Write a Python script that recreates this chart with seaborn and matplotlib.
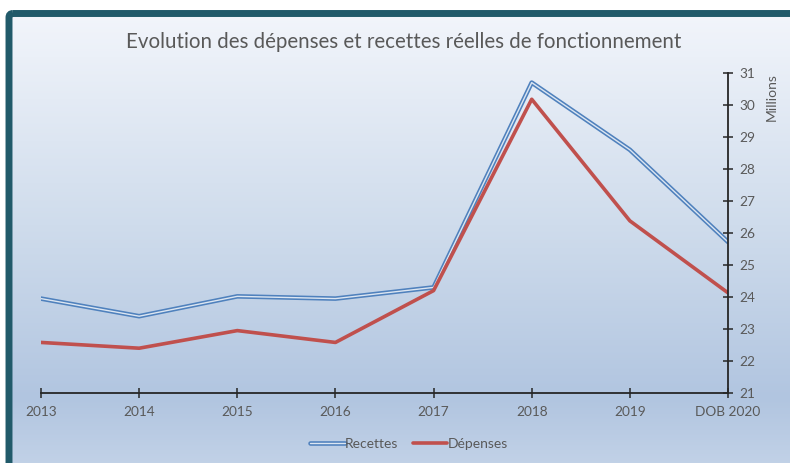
import numpy as np
import pandas as pd
import matplotlib
matplotlib.use("Agg")
import matplotlib.pyplot as plt
import matplotlib.patheffects as pe
from matplotlib.patches import FancyBboxPatch
from matplotlib.colors import LinearSegmentedColormap
import seaborn as sns

categories = ["2013", "2014", "2015", "2016", "2017", "2018", "2019", "DOB 2020"]
recettes = [23.95, 23.40, 24.02, 23.95, 24.30, 30.70, 28.60, 25.72]
depenses = [22.58, 22.40, 22.95, 22.58, 24.20, 30.18, 26.38, 24.13]
yticks = list(range(21, 32))

title = "Evolution des dépenses et recettes réelles de fonctionnement"
FONT = ["Lato", "DejaVu Sans"]
GRAY = "#595959"

sns.set_theme(style="white")
plt.rcParams["font.family"] = FONT

W, H = 790, 463
fig = plt.figure(figsize=(W / 100, H / 100), dpi=100)
fig.patch.set_facecolor("white")

# background panel with gradient and frame
bg = fig.add_axes([0, 0, 1, 1], zorder=-10)
bg.set_xlim(0, W)
bg.set_ylim(H, 0)
bg.axis("off")
cmap = LinearSegmentedColormap.from_list(
    "bgc", [(0.0, "#f2f5fb"), (0.45, "#cfdcec"), (0.82, "#b1c5e0"), (1.0, "#c6d5e9")])
grad = np.linspace(0, 1, 256).reshape(-1, 1)
bg.imshow(grad, cmap=cmap, aspect="auto", extent=(10, W + 20, H + 20, 14), zorder=0)
frame = FancyBboxPatch((9, 13.5), W + 30, H + 30, boxstyle="round,pad=0,rounding_size=4",
                       facecolor="none", edgecolor="#215a6a", linewidth=5, zorder=2)
bg.add_patch(frame)

ax = fig.add_axes([41 / W, 70 / H, (728 - 41) / W, (393 - 73) / H])
ax.set_facecolor("none")

df = pd.DataFrame({"cat": categories, "Recettes": recettes, "Dépenses": depenses})
df["x"] = np.arange(len(categories))

sns.lineplot(data=df, x="x", y="Recettes", ax=ax, color="#dce6f2", linewidth=1.0,
             label="Recettes", sort=False,
             path_effects=[pe.Stroke(linewidth=3.3, foreground="#4f81bd"), pe.Normal()])
sns.lineplot(data=df, x="x", y="Dépenses", ax=ax, color="#c0504d", linewidth=2.6,
             label="Dépenses", sort=False)

ax.set_xlim(0, len(categories) - 1)
ax.set_ylim(min(yticks), max(yticks))
ax.set_xticks(df["x"])
ax.set_xticklabels(categories)
ax.set_yticks(yticks)
ax.yaxis.tick_right()
ax.set_xlabel("")
ax.set_ylabel("")

for s in ["top", "left"]:
    ax.spines[s].set_visible(False)
for s in ["right", "bottom"]:
    ax.spines[s].set_visible(True)
    ax.spines[s].set_color("#262626")
    ax.spines[s].set_linewidth(1.3)

ax.tick_params(axis="both", direction="inout", length=7, width=1.1, color="#262626",
               labelsize=9.8, labelcolor=GRAY)
ax.tick_params(axis="x", pad=6, bottom=True)
ax.tick_params(axis="y", pad=5, right=True, left=False)
ax.grid(False)

ax.get_legend().remove()
handles, labels = ax.get_legend_handles_labels()
fig.legend(handles, labels, loc="center", bbox_to_anchor=(409 / W, 1 - 444 / H), ncol=2,
           frameon=False, fontsize=10, labelcolor=GRAY, handlelength=2.5,
           handletextpad=0.05, columnspacing=1.0)

fig.text(404 / W, 1 - 42 / H, title, ha="center", va="center", fontsize=14.8, color=GRAY)
fig.text(772 / W, 1 - 73 / H, "Millions", ha="center", va="top", rotation=90,
         fontsize=10, color=GRAY)

fig.savefig("out.png", dpi=100)
